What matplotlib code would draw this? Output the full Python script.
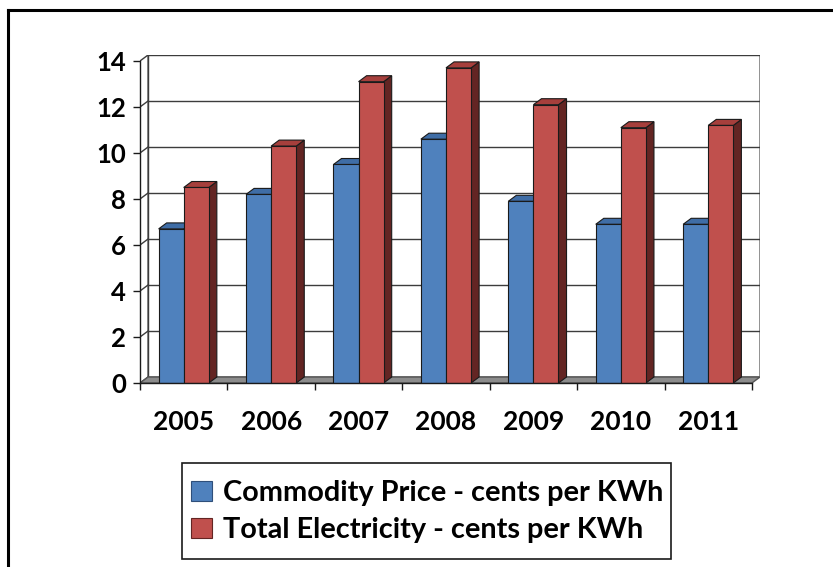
import matplotlib
matplotlib.use("Agg")
import matplotlib.pyplot as plt
from matplotlib.patches import Polygon, Patch, Rectangle
from matplotlib.lines import Line2D

# ---- data -------------------------------------------------------------
years = ["2005", "2006", "2007", "2008", "2009", "2010", "2011"]
commodity = [6.7, 8.2, 9.5, 10.6, 7.9, 6.9, 6.9]
total = [8.5, 10.3, 13.1, 13.7, 12.1, 11.1, 11.2]
series_names = ["Commodity Price - cents per KWh",
                "Total Electricity - cents per KWh"]
y_ticks = [0, 2, 4, 6, 8, 10, 12, 14]

# ---- style ------------------------------------------------------------
FONT = ["Lato", "DejaVu Sans"]
plt.rcParams["font.family"] = FONT
plt.rcParams["font.weight"] = "bold"

front = ["#4F81BD", "#C0504D"]
top = ["#3F6DA6", "#A63F3C"]
side = ["#2F4F7A", "#632523"]
edge = "#1a1a1a"

# oblique depth, expressed in axis units (category, value)
DX, DY = 0.092, 0.26
BAR_W = 0.287
YMAX = 14

W, H = 833, 567
fig = plt.figure(figsize=(W / 100, H / 100), dpi=100)
ax = fig.add_axes([140 / W, (H - 383) / H, 620 / W, 328 / H])
n = len(years)
ax.set_xlim(-0.5, n - 0.5 + DX)
ax.set_ylim(0, YMAX + DY)

# back wall
x0, x1 = -0.5, n - 0.5
ax.add_patch(Polygon([(x0 + DX, DY), (x1 + DX, DY), (x1 + DX, YMAX + DY),
                      (x0 + DX, YMAX + DY)], closed=True, fc="white",
                     ec="#7f7f7f", lw=1.2, zorder=1))
# gridlines on back wall and side wall
for v in y_ticks[1:]:
    ax.plot([x0 + DX, x1 + DX], [v + DY, v + DY], color="#3c3c3c", lw=1.0,
            zorder=1.5)
    ax.plot([x0, x0 + DX], [v, v + DY], color="#3c3c3c", lw=1.0, zorder=1.5)
ax.plot([x0 + DX, x0 + DX], [DY, YMAX + DY], color="#3c3c3c", lw=1.0,
        zorder=1.5)
ax.plot([x0, x0 + DX], [0, DY], color="#3c3c3c", lw=1.0, zorder=1.5)

# floor
ax.add_patch(Polygon([(x0, 0), (x1, 0), (x1 + DX, DY), (x0 + DX, DY)],
                     closed=True, fc="#8c8c8c", ec="#555555", lw=1.0,
                     zorder=2))


def bar3d(xl, value, k):
    xr = xl + BAR_W
    ax.add_patch(Polygon([(xr, 0), (xr + DX, DY), (xr + DX, value + DY),
                          (xr, value)], closed=True, fc=side[k], ec=edge,
                         lw=0.8, zorder=3))
    ax.add_patch(Polygon([(xl, value), (xr, value), (xr + DX, value + DY),
                          (xl + DX, value + DY)], closed=True, fc=top[k],
                         ec=edge, lw=0.8, zorder=3))
    ax.add_patch(Polygon([(xl, 0), (xr, 0), (xr, value), (xl, value)],
                         closed=True, fc=front[k], ec=edge, lw=0.8,
                         zorder=3))


for i in range(n):
    bar3d(i - BAR_W, commodity[i], 0)
    bar3d(i, total[i], 1)

# axes: only left and bottom spines, ticks outward
for s in ["top", "right"]:
    ax.spines[s].set_visible(False)
ax.spines["left"].set_bounds(0, YMAX)
ax.spines["bottom"].set_bounds(x0, x1)
for s in ["left", "bottom"]:
    ax.spines[s].set_color("#1a1a1a")
    ax.spines[s].set_linewidth(1.0)
    ax.spines[s].set_zorder(4)

ax.set_yticks(y_ticks)
ax.set_yticklabels([str(v) for v in y_ticks])
ax.tick_params(axis="y", direction="out", length=5, width=1,
               color="#1a1a1a", pad=5, labelsize=18.5)

ax.set_xticks([i - 0.5 for i in range(n + 1)])
ax.set_xticklabels([])
ax.tick_params(axis="x", which="major", direction="out", length=5,
               width=1, color="#1a1a1a")
ax.set_xticks(list(range(n)), minor=True)
ax.set_xticklabels(years, minor=True)
ax.tick_params(axis="x", which="minor", length=0, pad=19.5, labelsize=19)
for lab in ax.get_xticklabels(minor=True) + ax.get_yticklabels():
    lab.set_fontweight("bold")

# legend: entries without a frame, then a plain box around them
handles = [Patch(fc=front[0], ec="#2F4F7A", lw=0.8),
           Patch(fc=front[1], ec="#632523", lw=0.8)]
leg = fig.legend(handles, series_names, loc="upper left",
                 bbox_to_anchor=(182 / W, 1 - 471.5 / H), frameon=False,
                 prop={"family": FONT, "weight": "bold", "size": 20.8},
                 handlelength=0.74, handleheight=0.7, handletextpad=0.38,
                 labelspacing=0.39, borderpad=0.3, borderaxespad=0)
fig.add_artist(Rectangle((182 / W, 1 - 559 / H), 489 / W, 96 / H,
                         transform=fig.transFigure, fill=False,
                         ec="#1a1a1a", lw=1.2))

# outer frame (top and left edges visible)
fig.add_artist(Line2D([8 / W, 8 / W], [0, 1 - 10 / H], color="black",
                      lw=2.2, transform=fig.transFigure))
fig.add_artist(Line2D([8 / W, 1], [1 - 10 / H, 1 - 10 / H], color="black",
                      lw=2.2, transform=fig.transFigure))

fig.savefig("out.png", dpi=100)
